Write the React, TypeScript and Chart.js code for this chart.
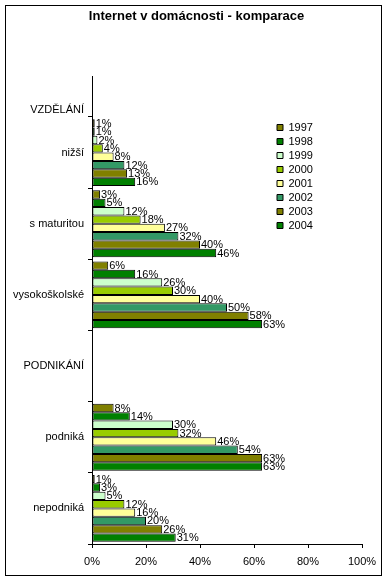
import React, { useEffect, useRef } from 'react';
import { Chart, registerables } from 'chart.js';

Chart.register(...registerables);

// ---- data ----
const categories = ['VZDĚLÁNÍ', 'nižší', 's maturitou', 'vysokoškolské', 'PODNIKÁNÍ', 'podniká', 'nepodniká'];
const years = ['1997', '1998', '1999', '2000', '2001', '2002', '2003', '2004'];
const v1997 = [null, 1, 3, 6, null, 8, 1];
const v1998 = [null, 1, 5, 16, null, 14, 3];
const v1999 = [null, 2, 12, 26, null, 30, 5];
const v2000 = [null, 4, 18, 30, null, 32, 12];
const v2001 = [null, 8, 27, 40, null, 46, 16];
const v2002 = [null, 12, 32, 50, null, 54, 20];
const v2003 = [null, 13, 40, 58, null, 63, 26];
const v2004 = [null, 16, 46, 63, null, 63, 31];
const seriesValues = [v1997, v1998, v1999, v2000, v2001, v2002, v2003, v2004];
const xTickValues = [0, 20, 40, 60, 80, 100];
const titleText = 'Internet v domácnosti - komparace';

// ---- styles ----
const seriesColors = ['#808000', '#008000', '#CCFFCC', '#99CC00', '#FFFF99', '#339966', '#808000', '#008000'];
const FONT = '"Liberation Sans", Arial, sans-serif';
const labelAnchor = [0.4, 1, 2, 3, 4, 5, 6];
const boundaries = [0.5, 1.5, 2.5, 3.5, 4.5, 5.5, 6.5];

const framePlugin = {
  id: 'frame',
  beforeDraw(chart: any) {
    const ctx = chart.ctx;
    ctx.save();
    ctx.fillStyle = '#ffffff';
    ctx.fillRect(0, 0, chart.width, chart.height);
    ctx.strokeStyle = '#000000';
    ctx.lineWidth = 1;
    ctx.strokeRect(5.5, 5.5, 376, 570);
    ctx.restore();
  },
};

const placementPlugin = {
  id: 'placement',
  afterLayout(chart: any) {
    const lg = chart.legend;
    if (lg) {
      lg.left = 274;
      lg.right = 274 + lg.width;
      lg.top = 119;
    }
    const tb = chart.titleBlock;
    if (tb) {
      tb.left = 4;
      tb.right = 389;
      tb.width = tb.right - tb.left;
    }
  },
};

const valueLabelPlugin = {
  id: 'valueLabels',
  afterDatasetsDraw(chart: any) {
    const ctx = chart.ctx;
    ctx.save();
    ctx.font = `11px ${FONT}`;
    ctx.fillStyle = '#000000';
    ctx.textAlign = 'left';
    ctx.textBaseline = 'middle';
    chart.data.datasets.forEach((ds: any, di: number) => {
      const meta = chart.getDatasetMeta(di);
      meta.data.forEach((el: any, i: number) => {
        const v = ds.data[i].x;
        ctx.fillText(v + '%', el.x + 1, el.y + 0.5);
      });
    });
    ctx.restore();
  },
};

export default function App() {
  const ref = useRef<HTMLCanvasElement | null>(null);

  useEffect(() => {
    document.body.style.margin = '0';
    const canvas = ref.current;
    if (!canvas) return;

    const datasets = years.map((year, si) => ({
      label: year,
      data: seriesValues[si]
        .map((v, ci) => (v === null ? null : { x: v, y: ci }))
        .filter((p) => p !== null),
      backgroundColor: seriesColors[si],
      borderColor: '#000000',
      borderWidth: 1,
      borderSkipped: false,
      categoryPercentage: 0.94,
      barPercentage: 1.0,
    }));

    const chart = new Chart(canvas, {
      type: 'bar',
      data: { datasets },
      plugins: [framePlugin, placementPlugin, valueLabelPlugin],
      options: {
        indexAxis: 'y',
        responsive: false,
        animation: false,
        devicePixelRatio: 1,
        layout: { padding: { left: 0, right: 27, top: 0, bottom: 12 } },
        plugins: {
          title: {
            display: true,
            text: titleText,
            color: '#000000',
            font: { family: FONT, size: 13, weight: 'bold' },
            padding: { top: 8.5, bottom: 51.9 },
          },
          legend: {
            display: true,
            position: 'chartArea',
            align: 'start',
            labels: {
              boxWidth: 6,
              boxHeight: 6,
              padding: 3,
              color: '#000000',
              font: { family: FONT, size: 11 },
            },
          },
          tooltip: { enabled: false },
        },
        scales: {
          x: {
            type: 'linear',
            position: 'bottom',
            min: 0,
            max: 100,
            afterBuildTicks: (scale: any) => {
              scale.ticks = xTickValues.map((v) => ({ value: v }));
            },
            afterFit: (scale: any) => {
              scale.height = 25;
            },
            ticks: {
              color: '#000000',
              font: { family: FONT, size: 11 },
              padding: 7,
              callback: (v: any) => v + '%',
              autoSkip: false,
              maxRotation: 0,
            },
            grid: {
              display: true,
              drawOnChartArea: false,
              drawTicks: true,
              tickLength: 4,
              color: '#000000',
            },
            border: { display: true, color: '#000000', width: 1 },
          },
          y: {
            type: 'linear',
            axis: 'y',
            position: 'left',
            weight: 0,
            reverse: true,
            min: -0.076,
            max: 6.5,
            offset: false,
            afterBuildTicks: (scale: any) => {
              scale.ticks = boundaries.map((v) => ({ value: v }));
            },
            afterFit: (scale: any) => {
              scale.width = 5;
            },
            ticks: { display: false, autoSkip: false },
            grid: {
              display: true,
              offset: false,
              drawOnChartArea: false,
              drawTicks: true,
              tickLength: 4,
              color: '#000000',
            },
            border: { display: true, color: '#000000', width: 1 },
          },
          yl: {
            type: 'linear',
            axis: 'y',
            position: 'left',
            weight: 1,
            reverse: true,
            min: -0.076,
            max: 6.5,
            offset: false,
            afterBuildTicks: (scale: any) => {
              scale.ticks = labelAnchor.map((v) => ({ value: v }));
            },
            afterFit: (scale: any) => {
              scale.width = 87;
            },
            ticks: {
              display: true,
              autoSkip: false,
              padding: 3,
              color: '#000000',
              font: { family: FONT, size: 11 },
              callback: (_v: any, index: number) => categories[index],
            },
            grid: { display: false, drawTicks: false, tickLength: 0, offset: false },
            border: { display: false },
          },
        },
      } as any,
    });

    return () => {
      chart.destroy();
    };
  }, []);

  return (
    <div style={{ width: 389, height: 581 }}>
      <canvas ref={ref} width={389} height={581} style={{ display: 'block' }} />
    </div>
  );
}
